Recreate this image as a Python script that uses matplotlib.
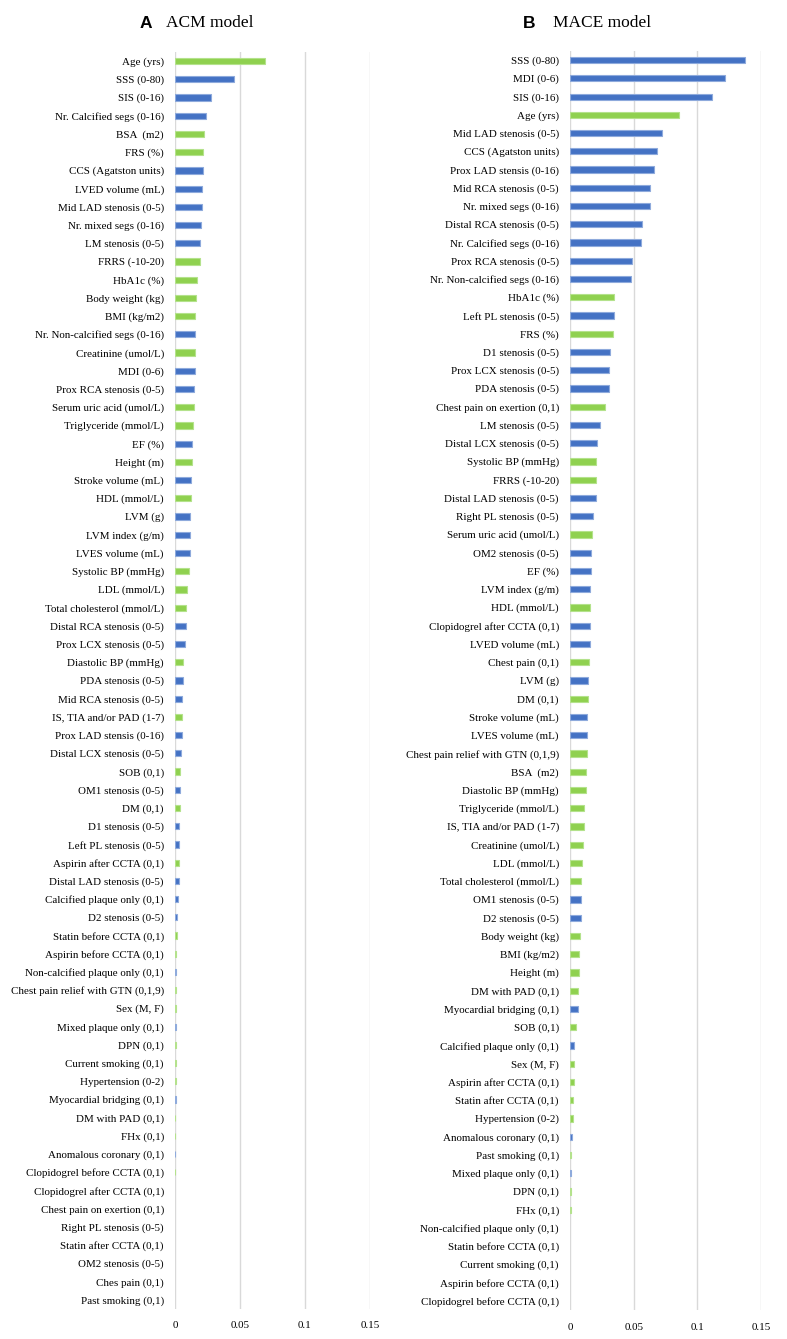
import matplotlib
matplotlib.use('Agg')
import matplotlib.pyplot as plt
import numpy as np

plt.rcParams['font.family'] = ['Liberation Serif', 'DejaVu Serif']

# ACM model (panel A)
acm_labels = [
    'Age (yrs)', 'SSS (0-80)', 'SIS (0-16)', 'Nr. Calcified segs (0-16)', 'BSA  (m2)',
    'FRS (%)', 'CCS (Agatston units)', 'LVED volume (mL)', 'Mid LAD stenosis (0-5)',
    'Nr. mixed segs (0-16)', 'LM stenosis (0-5)', 'FRRS (-10-20)', 'HbA1c (%)',
    'Body weight (kg)', 'BMI (kg/m2)', 'Nr. Non-calcified segs (0-16)', 'Creatinine (umol/L)',
    'MDI (0-6)', 'Prox RCA stenosis (0-5)', 'Serum uric acid (umol/L)', 'Triglyceride (mmol/L)',
    'EF (%)', 'Height (m)', 'Stroke volume (mL)', 'HDL (mmol/L)', 'LVM (g)', 'LVM index (g/m)',
    'LVES volume (mL)', 'Systolic BP (mmHg)', 'LDL (mmol/L)', 'Total cholesterol (mmol/L)',
    'Distal RCA stenosis (0-5)', 'Prox LCX stenosis (0-5)', 'Diastolic BP (mmHg)',
    'PDA stenosis (0-5)', 'Mid RCA stenosis (0-5)', 'IS, TIA and/or PAD (1-7)',
    'Prox LAD stensis (0-16)', 'Distal LCX stenosis (0-5)', 'SOB (0,1)', 'OM1 stenosis (0-5)',
    'DM (0,1)', 'D1 stenosis (0-5)', 'Left PL stenosis (0-5)', 'Aspirin after CCTA (0,1)',
    'Distal LAD stenosis (0-5)', 'Calcified plaque only (0,1)', 'D2 stenosis (0-5)',
    'Statin before CCTA (0,1)', 'Aspirin before CCTA (0,1)', 'Non-calcified plaque only (0,1)',
    'Chest pain relief with GTN (0,1,9)', 'Sex (M, F)', 'Mixed plaque only (0,1)', 'DPN (0,1)',
    'Current smoking (0,1)', 'Hypertension (0-2)', 'Myocardial bridging (0,1)',
    'DM with PAD (0,1)', 'FHx (0,1)', 'Anomalous coronary (0,1)', 'Clopidogrel before CCTA (0,1)',
    'Clopidogrel after CCTA (0,1)', 'Chest pain on exertion (0,1)', 'Right PL stenosis (0-5)',
    'Statin after CCTA (0,1)', 'OM2 stenosis (0-5)', 'Ches pain (0,1)', 'Past smoking (0,1)',
]
acm_values = [
    0.0691, 0.0451, 0.0276, 0.0242, 0.0222, 0.0216, 0.0214, 0.0206, 0.0205, 0.0198,
    0.0192, 0.0190, 0.0168, 0.0162, 0.0157, 0.0155, 0.0154, 0.0152, 0.0145, 0.0144,
    0.0135, 0.0134, 0.0131, 0.0126, 0.0120, 0.0119, 0.0114, 0.0113, 0.0111, 0.0093,
    0.0088, 0.0085, 0.0077, 0.0062, 0.0058, 0.0057, 0.0054, 0.0052, 0.0044, 0.0042,
    0.0041, 0.0039, 0.0032, 0.0031, 0.0030, 0.0028, 0.0026, 0.0018, 0.0012, 0.0011,
    0.0009, 0.0008, 0.0007, 0.0006, 0.0006, 0.0005, 0.0005, 0.0004, 0.0002, 0.0001,
    0.0001, 0.0001, 0, 0, 0, 0, 0, 0, 0,
]
# C = clinical (green), I = imaging (blue)
acm_groups = list('CIIICCIIIIICCCCICIICCICICIIICCCIICIICIICICIICIIICCICCICCCICCICICICICC')

# MACE model (panel B)
mace_labels = [
    'SSS (0-80)', 'MDI (0-6)', 'SIS (0-16)', 'Age (yrs)', 'Mid LAD stenosis (0-5)',
    'CCS (Agatston units)', 'Prox LAD stensis (0-16)', 'Mid RCA stenosis (0-5)',
    'Nr. mixed segs (0-16)', 'Distal RCA stenosis (0-5)', 'Nr. Calcified segs (0-16)',
    'Prox RCA stenosis (0-5)', 'Nr. Non-calcified segs (0-16)', 'HbA1c (%)',
    'Left PL stenosis (0-5)', 'FRS (%)', 'D1 stenosis (0-5)', 'Prox LCX stenosis (0-5)',
    'PDA stenosis (0-5)', 'Chest pain on exertion (0,1)', 'LM stenosis (0-5)',
    'Distal LCX stenosis (0-5)', 'Systolic BP (mmHg)', 'FRRS (-10-20)',
    'Distal LAD stenosis (0-5)', 'Right PL stenosis (0-5)', 'Serum uric acid (umol/L)',
    'OM2 stenosis (0-5)', 'EF (%)', 'LVM index (g/m)', 'HDL (mmol/L)',
    'Clopidogrel after CCTA (0,1)', 'LVED volume (mL)', 'Chest pain (0,1)', 'LVM (g)',
    'DM (0,1)', 'Stroke volume (mL)', 'LVES volume (mL)', 'Chest pain relief with GTN (0,1,9)',
    'BSA  (m2)', 'Diastolic BP (mmHg)', 'Triglyceride (mmol/L)', 'IS, TIA and/or PAD (1-7)',
    'Creatinine (umol/L)', 'LDL (mmol/L)', 'Total cholesterol (mmol/L)', 'OM1 stenosis (0-5)',
    'D2 stenosis (0-5)', 'Body weight (kg)', 'BMI (kg/m2)', 'Height (m)', 'DM with PAD (0,1)',
    'Myocardial bridging (0,1)', 'SOB (0,1)', 'Calcified plaque only (0,1)', 'Sex (M, F)',
    'Aspirin after CCTA (0,1)', 'Statin after CCTA (0,1)', 'Hypertension (0-2)',
    'Anomalous coronary (0,1)', 'Past smoking (0,1)', 'Mixed plaque only (0,1)', 'DPN (0,1)',
    'FHx (0,1)', 'Non-calcified plaque only (0,1)', 'Statin before CCTA (0,1)',
    'Current smoking (0,1)', 'Aspirin before CCTA (0,1)', 'Clopidogrel before CCTA (0,1)',
]
mace_values = [
    0.1377, 0.1220, 0.1113, 0.0853, 0.0720, 0.0686, 0.0660, 0.0627, 0.0625, 0.0563,
    0.0560, 0.0487, 0.0479, 0.0346, 0.0343, 0.0335, 0.0312, 0.0305, 0.0304, 0.0275,
    0.0233, 0.0212, 0.0208, 0.0207, 0.0202, 0.0181, 0.0173, 0.0168, 0.0161, 0.0160,
    0.0158, 0.0157, 0.0154, 0.0152, 0.0144, 0.0139, 0.0135, 0.0134, 0.0131, 0.0128,
    0.0123, 0.0108, 0.0107, 0.0106, 0.0094, 0.0090, 0.0089, 0.0084, 0.0076, 0.0073,
    0.0068, 0.0066, 0.0065, 0.0050, 0.0034, 0.0030, 0.0029, 0.0022, 0.0021, 0.0016,
    0.0010, 0.0008, 0.0006, 0.0004, 0, 0, 0, 0, 0,
]
mace_groups = list('IIICIIIIIIIIICICIIICIICCIICIIICIICICIICCCCCCCCIICCCCICICCCCICICCICCCC')

xticks = [0, 0.05, 0.1, 0.15]
xticklabels = ['0', '0.05', '0.1', '0.15']

colors = {'C': '#8fd14f', 'I': '#4472c4'}
edges = {'C': '#b4e28c', 'I': '#8eaadc'}

W, H = 787, 1339
fig = plt.figure(figsize=(W / 100, H / 100), dpi=100)


def panel(rect, labels, values, groups):
    l, t, r, b = rect
    ax = fig.add_axes([l / W, (H - b) / H, (r - l) / W, (b - t) / H])
    y = np.arange(len(labels))
    # zero values get no outline, so they stay invisible like in the original
    ec = [edges[g] if v > 0 else 'none' for g, v in zip(groups, values)]
    ax.barh(y, values, height=0.34,
            color=[colors[g] for g in groups],
            edgecolor=ec, linewidth=0.8, zorder=3)
    ax.set_ylim(len(labels) - 0.5, -0.5)
    ax.set_xlim(0, 0.15)
    ax.set_yticks(y)
    ax.set_yticklabels(labels, fontsize=7.9)
    ax.set_xticks(xticks)
    ax.set_xticklabels(xticklabels, fontsize=7.9)
    ax.tick_params(axis='y', length=0, pad=8)
    ax.tick_params(axis='x', length=0, pad=9)
    ax.grid(axis='x', color='#d9d9d9', linewidth=1.0, zorder=0)
    for s in ax.spines.values():
        s.set_visible(False)
    return ax


panel((175, 52, 370, 1309), acm_labels, acm_values, acm_groups)
panel((570, 51, 761, 1310), mace_labels, mace_values, mace_groups)

fig.text(140 / W, 1 - 23 / H, 'A', family='Liberation Sans', fontweight='bold',
         fontsize=12.5, va='center', ha='left')
fig.text(166 / W, 1 - 23 / H, 'ACM model', fontsize=12.5, va='center', ha='left')
fig.text(523 / W, 1 - 23 / H, 'B', family='Liberation Sans', fontweight='bold',
         fontsize=12.5, va='center', ha='left')
fig.text(553 / W, 1 - 23 / H, 'MACE model', fontsize=12.5, va='center', ha='left')

fig.savefig('out.png', dpi=100)
